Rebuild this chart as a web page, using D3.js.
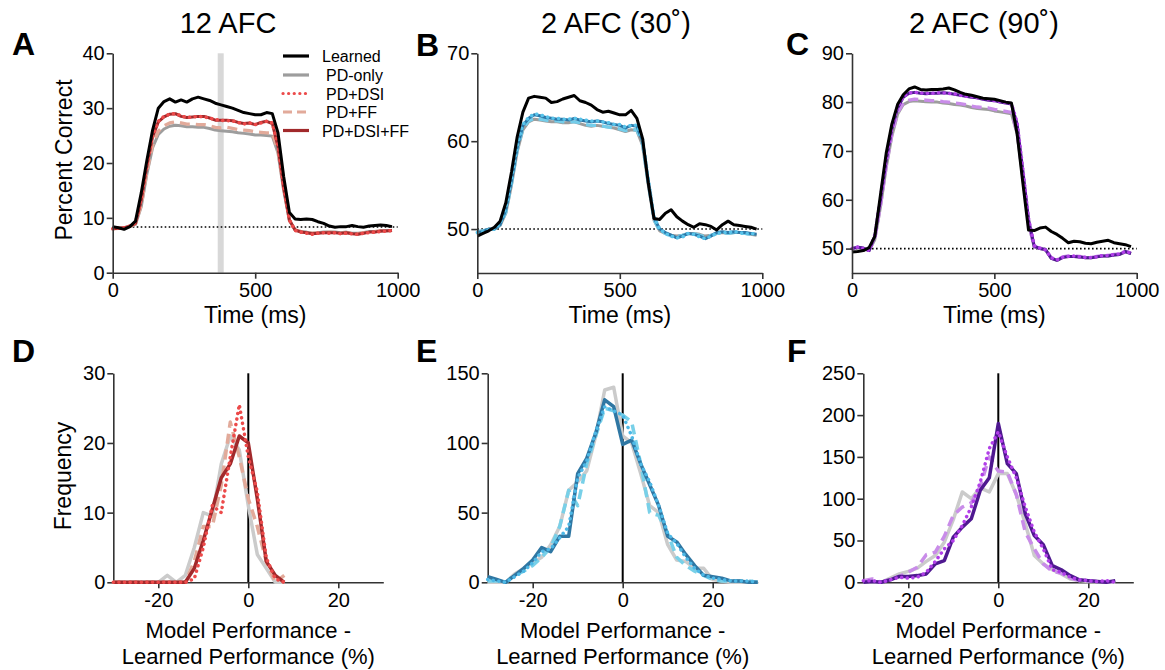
<!DOCTYPE html>
<html><head><meta charset="utf-8">
<script src="https://cdn.jsdelivr.net/npm/d3@7"></script>
<style>
body{margin:0;background:#fff}
text{font-family:"Liberation Sans",Arial,Helvetica,sans-serif;fill:#000}
</style>
</head><body>
<svg id="chart" width="1165" height="670"></svg>
<script>
// ---------- DATA ----------
const timeMs = [0,20,40,60,80,100,120,140,160,180,200,220,240,260,280,300,320,340,360,380,400,420,440,460,480,500,520,540,560,580,600,620,640,660,680,700,720,740,760,780,800,820,840,860,880,900,920,940,960,980];

// Panel A (12 AFC)
const learnedA = [8.4,8.2,7.9,8.4,9.4,14.5,20.5,26.0,30.0,31.2,31.7,31.1,31.5,31.1,31.7,32.0,31.7,31.4,30.9,30.6,30.3,30.0,29.6,29.2,29.0,28.8,28.8,29.2,29.0,25.5,17.5,11.0,9.8,9.7,9.8,9.7,9.3,9.0,8.5,8.3,8.4,8.4,8.6,8.4,8.3,8.5,8.6,8.7,8.6,8.4];
const pdOnlyA  = [8.0,8.1,8.2,8.4,8.8,12.0,18.0,22.8,25.2,26.2,26.7,26.9,26.8,26.6,26.6,26.5,26.5,26.3,26.0,25.9,25.8,25.7,25.5,25.4,25.3,25.1,25.1,25.0,24.9,21.8,15.0,9.5,7.8,7.5,7.4,7.2,7.3,7.4,7.4,7.4,7.3,7.4,7.2,7.2,7.3,7.5,7.5,7.6,7.7,7.7];
const pdDsiA   = [8.0,8.1,8.2,8.5,9.1,13.4,19.6,24.9,27.6,28.5,28.9,29.0,28.6,28.3,28.4,28.5,28.4,28.2,27.9,27.8,27.7,27.7,27.4,27.1,27.3,27.0,27.3,27.6,27.3,23.2,15.6,9.6,7.7,7.4,7.2,7.0,7.2,7.3,7.2,7.3,7.1,7.2,7.1,7.0,7.2,7.3,7.4,7.5,7.6,7.7];
const pdFfA    = [8.0,8.1,8.2,8.4,8.9,12.3,18.4,23.3,25.8,26.8,27.3,27.5,27.3,27.1,27.1,27.0,27.0,26.8,26.5,26.4,26.5,26.3,26.1,26.0,25.9,25.7,25.6,25.5,25.5,22.3,15.3,9.6,7.8,7.5,7.4,7.2,7.3,7.3,7.4,7.3,7.2,7.3,7.2,7.1,7.3,7.4,7.5,7.6,7.6,7.7];
const pdDsiFfA = [8.0,8.1,8.2,8.5,9.0,13.2,19.5,24.8,27.5,28.4,28.9,29.0,28.5,28.3,28.4,28.5,28.5,28.2,27.8,27.8,27.8,27.7,27.4,27.2,27.3,27.0,27.4,27.6,27.2,23.0,15.5,9.6,7.8,7.4,7.3,7.1,7.2,7.3,7.3,7.3,7.2,7.3,7.1,7.0,7.2,7.4,7.4,7.6,7.6,7.7];

// Panel B (2 AFC 30°)
const learnedB = [49.2,49.5,49.8,50.2,50.9,53.0,56.5,60.5,63.3,64.9,65.1,65.0,64.9,64.4,64.5,64.8,65.0,65.2,64.6,64.4,64.1,63.6,63.3,63.4,63.2,63.0,63.0,63.5,62.6,60.3,55.2,51.2,51.1,51.8,52.2,51.4,50.9,50.5,50.2,50.6,50.5,50.3,49.9,50.5,50.9,50.5,50.4,50.3,50.2,50.0];
const pdOnlyB  = [49.7,49.8,50.0,50.0,50.4,51.8,55.0,58.8,61.3,62.2,62.5,62.4,62.3,62.2,62.2,62.1,62.1,62.2,62.0,61.8,61.7,61.8,61.7,61.6,61.5,61.3,61.1,61.3,61.2,59.5,55.0,51.0,49.8,49.5,49.3,49.2,49.3,49.5,49.5,49.4,49.2,49.3,49.5,49.6,49.5,49.6,49.6,49.5,49.4,49.3];
const pdDsiB   = [49.6,49.7,49.9,50.0,50.6,52.4,55.7,59.5,61.9,62.7,63.1,63.0,62.8,62.6,62.6,62.5,62.5,62.6,62.5,62.4,62.3,62.3,62.2,62.1,61.9,61.9,61.6,61.8,61.8,60.2,55.6,51.4,50.0,49.5,49.2,49.0,49.1,49.5,49.4,49.1,48.9,49.2,49.5,49.6,49.6,49.7,49.6,49.5,49.5,49.4];
const pdFfB    = [49.7,49.8,50.0,50.0,50.5,51.9,55.2,59.0,61.5,62.3,62.6,62.5,62.4,62.3,62.3,62.2,62.2,62.2,62.1,61.9,61.8,61.8,61.7,61.6,61.5,61.4,61.2,61.3,61.3,59.7,55.2,51.1,49.8,49.5,49.2,49.1,49.3,49.5,49.5,49.3,49.1,49.3,49.5,49.6,49.5,49.6,49.5,49.5,49.4,49.3];
const pdDsiFfB = [49.6,49.7,50.0,50.0,50.5,52.2,55.5,59.3,61.8,62.6,63.0,62.9,62.7,62.6,62.5,62.5,62.4,62.6,62.4,62.3,62.2,62.3,62.2,62.0,61.9,61.8,61.5,61.8,61.7,60.0,55.5,51.3,50.0,49.6,49.3,49.0,49.2,49.5,49.4,49.2,48.9,49.2,49.6,49.7,49.6,49.7,49.6,49.6,49.5,49.4];

// Panel C (2 AFC 90°)
const learnedC = [49.3,49.4,49.6,50.2,52.5,61.0,69.5,75.5,79.5,81.5,82.7,83.1,82.6,82.5,82.6,82.6,82.7,82.9,82.5,82.0,81.6,81.4,81.1,80.8,80.7,80.6,80.3,80.0,79.8,73.5,63.5,53.8,53.7,54.2,54.4,53.5,52.9,52.1,51.2,51.5,51.4,51.1,51.0,51.3,51.5,51.7,51.2,51.0,50.8,50.4];
const pdOnlyC  = [50.0,50.2,50.0,49.6,51.8,58.5,66.5,73.0,77.5,79.5,80.1,80.3,80.2,80.1,80.0,80.0,79.8,79.7,79.5,79.4,79.2,78.9,78.7,78.6,78.5,78.2,78.0,77.8,77.6,73.5,64.5,55.0,50.3,50.0,49.7,48.0,47.6,48.2,48.4,48.4,48.3,48.1,48.1,48.3,48.5,48.5,48.7,48.8,49.3,49.0];
const pdDsiC   = [50.0,50.3,50.0,49.6,52.7,60.3,68.3,74.8,79.0,81.1,81.9,82.0,81.9,81.8,81.8,81.9,81.9,81.8,81.7,81.4,81.2,81.1,80.9,80.7,80.5,80.3,80.1,79.9,79.7,75.8,66.3,56.2,50.6,50.1,49.7,48.1,47.7,48.2,48.4,48.5,48.3,48.2,48.2,48.3,48.6,48.6,48.8,48.9,49.4,49.1];
const pdFfC    = [50.0,50.3,50.0,49.6,52.0,58.8,66.8,73.4,77.8,79.8,80.4,80.6,80.5,80.4,80.3,80.3,80.1,80.0,79.8,79.7,79.5,79.2,79.0,78.9,78.8,78.5,78.3,78.1,77.9,73.8,64.8,55.3,50.4,50.1,49.8,48.1,47.7,48.3,48.5,48.5,48.4,48.2,48.2,48.4,48.6,48.6,48.8,48.9,49.4,49.1];
const pdDsiFfC = [50.0,50.3,50.1,49.6,52.5,60.0,68.0,74.5,78.8,81.0,81.8,82.0,81.8,81.7,81.8,81.8,81.9,81.8,81.6,81.4,81.2,81.0,80.9,80.6,80.4,80.3,80.0,79.8,79.6,75.5,66.0,56.0,50.5,50.0,49.8,48.0,47.6,48.2,48.4,48.4,48.3,48.1,48.1,48.3,48.5,48.5,48.7,48.8,49.4,49.0];

// Chance levels
const chanceA = 8.33, chanceB = 50, chanceC = 50;
const highlightTimeA = 379;

// Histograms
const binsD = [-30,-28,-26,-24,-22,-20,-18,-16,-14,-12,-10,-8,-6,-4,-2,0,2,4,6,8];
const pdOnlyD  = [0,0,0,0,0,0,1,0,1,5,10,9.5,17,21,19,11,4,2,0,0];
const pdDsiD   = [0,0,0,0,0,0,0,0,0,0.5,5,11,10,18,25.5,18,13,3.5,0.5,0];
const pdFfD    = [0,0,0,0,0,0,0,0,0,3,8,8,14,23,18,12,8,3,0,1];
const pdDsiFfD = [0,0,0,0,0,0,0,0,0,2,6,10.5,15,17,21,20,12,3,1,0];

const binsE = [-30,-28,-26,-24,-22,-20,-18,-16,-14,-12,-10,-8,-6,-4,-2,0,2,4,6,8,10,12,14,16,18,20,22,24,26,28,30];
const pdOnlyE  = [0,0,0,6,10,14,18,27,40,66,72,80,105,138,140,105,100,78,55,50,27,16,15,10,10,2,1,0,0,0,0];
const pdDsiE   = [2,1,0,4,8,14,22,24,32,40,75,87,108,126,123,120,105,85,72,55,35,28,18,10,5,3,2,1,1,1,0];
const pdFfE    = [1,1,0,5,8,12,18,25,40,66,55,85,105,125,123,120,115,85,50,48,35,18,12,8,5,2,1,1,1,1,0];
const pdDsiFfE = [4,2,0,5,10,16,25,22,33,33,78,89,107,131,126,99,102,85,70,55,33,29,20,12,5,4,3,1,1,0,0];

const binsF = [-30,-28,-26,-24,-22,-20,-18,-16,-14,-12,-10,-8,-6,-4,-2,0,2,4,6,8,10,12,14,16,18,20,22,24,26];
const pdOnlyF  = [1,0,0,5,10,13,17,25,32,48,75,108,100,113,108,130,130,105,70,32,22,15,10,4,2,1,1,0,0];
const pdDsiF   = [2,2,0,3,6,5,6,12,25,40,50,68,90,120,160,180,150,125,90,60,40,15,12,6,3,2,1,2,0];
const pdFfF    = [2,4,0,4,7,12,18,33,36,55,80,90,95,115,150,133,132,105,60,40,22,13,11,5,2,2,1,1,0];
const pdDsiFfF = [0,1,0,3,7,7,8,10,22,26,54,66,76,110,125,190,142,130,82,56,45,20,15,8,3,2,1,0,2];

const legendLabels = ["Learned","PD-only","PD+DSI","PD+FF","PD+DSI+FF"];

// ---------- DRAWING ----------
const svg = d3.select("#chart");
svg.append("rect").attr("width",1165).attr("height",670).attr("fill","#fff");
const AX = "#333";
const TICK_FS = 20, TITLE_FS = 23;

function styleAxis(g, fs){
  g.select(".domain").attr("stroke",AX).attr("stroke-width",1.6);
  g.selectAll(".tick line").attr("stroke",AX).attr("stroke-width",1.6);
  g.selectAll(".tick text").style("font-size",fs+"px").style("font-family",'"Liberation Sans",Arial,sans-serif').attr("fill","#000");
}

function makePanel(o){
  const x = d3.scaleLinear().domain(o.xDomain).range([o.left,o.right]);
  const y = d3.scaleLinear().domain(o.yDomain).range([o.bottom,o.top]);
  return {x,y,o};
}

const fmt = d => String(d);
function drawAxes(p, xPad){
  const {x,y,o} = p;
  const gx = svg.append("g").attr("transform",`translate(0,${o.bottom})`)
    .call(d3.axisBottom(x).tickValues(o.xTicks).tickFormat(fmt).tickSize(6).tickPadding(xPad).tickSizeOuter(0));
  styleAxis(gx,TICK_FS);
  const gy = svg.append("g").attr("transform",`translate(${o.left},0)`)
    .call(d3.axisLeft(y).tickValues(o.yTicks).tickFormat(fmt).tickSize(6).tickPadding(2).tickSizeOuter(0));
  styleAxis(gy,TICK_FS);
}

const styles = {
  solid:{dash:null,cap:"butt"},
  dotted:{dash:"0.1 5.5",cap:"round"},
  dashed:{dash:"10 6",cap:"butt"}
};

function drawLine(p, xs, vals, color, style, width){
  const line = d3.line().x((d,i)=>p.x(xs[i])).y(d=>p.y(d));
  const s = styles[style];
  svg.append("path").datum(vals).attr("d",line)
    .attr("fill","none").attr("stroke",color).attr("stroke-width",width)
    .attr("stroke-linejoin","round").attr("stroke-linecap",s.cap)
    .attr("stroke-dasharray",s.dash);
}

function chanceLine(p, v){
  svg.append("line").attr("x1",p.x(0)).attr("x2",p.x(1000)).attr("y1",p.y(v)).attr("y2",p.y(v))
    .attr("stroke","#000").attr("stroke-width",1.6).attr("stroke-dasharray","1.6 2.4");
}

function txt(x,y,s,size,opts={}){
  const t = svg.append("text").attr("x",x).attr("y",y).text(s).style("font-size",size+"px");
  if(opts.anchor) t.attr("text-anchor",opts.anchor);
  if(opts.bold) t.style("font-weight","bold");
  if(opts.rotate) t.attr("transform",`rotate(-90,${x},${y})`);
  return t;
}

// ---- Top row ----
const pA = makePanel({left:112.7,right:397.7,top:53.3,bottom:272.7,xDomain:[0,1000],yDomain:[0,40],xTicks:[0,500,1000],yTicks:[0,10,20,30,40]});
const pB = makePanel({left:477.3,right:762.3,top:53.3,bottom:273,xDomain:[0,1000],yDomain:[45,70],xTicks:[0,500,1000],yTicks:[50,60,70]});
const pC = makePanel({left:852,right:1136.7,top:53.3,bottom:273,xDomain:[0,1000],yDomain:[45,90],xTicks:[0,500,1000],yTicks:[50,60,70,80,90]});

// highlight bar in A
svg.append("rect").attr("x",pA.x(highlightTimeA)-3).attr("width",6)
  .attr("y",pA.y(40)).attr("height",pA.y(0)-pA.y(40)).attr("fill","#d8d8d8");

const topW = 3;
const palA = {pd:"#9d9d9d",dsi:"#ec4a4a",ff:"#e2aa9a",dsiff:"#a1292b"};
const palB = {pd:"#9d9d9d",dsi:"#58c3ea",ff:"#74cdea",dsiff:"#2c78a8"};
const palC = {pd:"#9d9d9d",dsi:"#b13fe8",ff:"#c98ce9",dsiff:"#4f1890"};

function drawTime(p, pal, L, PD, DSI, FF, DSIFF, chance){
  chanceLine(p, chance);
  drawLine(p,timeMs,PD,pal.pd,"solid",topW);
  drawLine(p,timeMs,FF,pal.ff,"dashed",topW+0.3);
  drawLine(p,timeMs,DSIFF,pal.dsiff,"solid",topW);
  drawLine(p,timeMs,DSI,pal.dsi,"dotted",topW+0.5);
  drawLine(p,timeMs,L,"#000","solid",topW);
  drawAxes(p,4);
}
drawTime(pA,palA,learnedA,pdOnlyA,pdDsiA,pdFfA,pdDsiFfA,chanceA);
drawTime(pB,palB,learnedB,pdOnlyB,pdDsiB,pdFfB,pdDsiFfB,chanceB);
drawTime(pC,palC,learnedC,pdOnlyC,pdDsiC,pdFfC,pdDsiFfC,chanceC);

// legend in A
const legY = [56,75,93.5,112,130.5];
const legStyle = [["#000","solid"],[palA.pd,"solid"],[palA.dsi,"dotted"],[palA.ff,"dashed"],[palA.dsiff,"solid"]];
const legX = [322,326,326,326,322];
legendLabels.forEach((lab,i)=>{
  const s = styles[legStyle[i][1]];
  svg.append("line").attr("x1",283).attr("x2",309).attr("y1",legY[i]).attr("y2",legY[i])
    .attr("stroke",legStyle[i][0]).attr("stroke-width",3.2).attr("stroke-linecap",s.cap)
    .attr("stroke-dasharray",s.dash==="10 6"?"9 5":s.dash);
  txt(legX[i],legY[i]+6,lab,16);
});

// titles
txt(228,33,"12 AFC",29,{anchor:"middle"});
txt(616,33,"2 AFC (30˚)",29,{anchor:"middle"});
txt(984,33,"2 AFC (90˚)",29,{anchor:"middle"});
// panel letters
txt(12,55,"A",32,{bold:true});
txt(416,56,"B",32,{bold:true});
txt(786,55,"C",32,{bold:true});
txt(12,362,"D",32,{bold:true});
txt(416,362,"E",32,{bold:true});
txt(787,362,"F",32,{bold:true});
// axis titles top
[pA,pB,pC].forEach(p=>txt((p.o.left+p.o.right)/2,323,"Time (ms)",TITLE_FS,{anchor:"middle"}));
txt(72,160,"Percent Correct",TITLE_FS,{anchor:"middle",rotate:true});

// ---- Bottom row ----
const pD = makePanel({left:113.3,right:383.3,top:373.3,bottom:582.3,xDomain:[-30,30],yDomain:[0,30],xTicks:[-20,0,20],yTicks:[0,10,20,30]});
const pE = makePanel({left:487.7,right:757.7,top:373.3,bottom:582.3,xDomain:[-30,30],yDomain:[0,150],xTicks:[-20,0,20],yTicks:[0,50,100,150]});
const pF = makePanel({left:863.3,right:1133.3,top:373.3,bottom:582.3,xDomain:[-30,30],yDomain:[0,250],xTicks:[-20,0,20],yTicks:[0,50,100,150,200,250]});

const palD = {pd:"#cbcbcb",dsi:"#ec4a4a",ff:"#e2aa9a",dsiff:"#a1292b"};
const palE = {pd:"#cbcbcb",dsi:"#4db8e6",ff:"#78d0e8",dsiff:"#2f77a3"};
const palF = {pd:"#cbcbcb",dsi:"#b13fe8",ff:"#c98ce9",dsiff:"#4f1890"};

function drawHist(p, pal, bins, PD, DSI, FF, DSIFF){
  svg.append("line").attr("x1",p.x(0)).attr("x2",p.x(0)).attr("y1",p.y(p.o.yDomain[1])).attr("y2",p.y(0))
    .attr("stroke","#000").attr("stroke-width",2);
  drawAxes(p,5);
  const w = 3.5;
  drawLine(p,bins,PD,pal.pd,"solid",w);
  drawLine(p,bins,FF,pal.ff,"dashed",w);
  drawLine(p,bins,DSIFF,pal.dsiff,"solid",w);
  drawLine(p,bins,DSI,pal.dsi,"dotted",w);
  const cx = p.x(0);
  txt(cx,638,"Model Performance -",22,{anchor:"middle"});
  txt(cx,664,"Learned Performance (%)",22,{anchor:"middle"});
}
drawHist(pD,palD,binsD,pdOnlyD,pdDsiD,pdFfD,pdDsiFfD);
drawHist(pE,palE,binsE,pdOnlyE,pdDsiE,pdFfE,pdDsiFfE);
drawHist(pF,palF,binsF,pdOnlyF,pdDsiF,pdFfF,pdDsiFfF);
txt(71,476,"Frequency",TITLE_FS,{anchor:"middle",rotate:true});
</script>
</body></html>
